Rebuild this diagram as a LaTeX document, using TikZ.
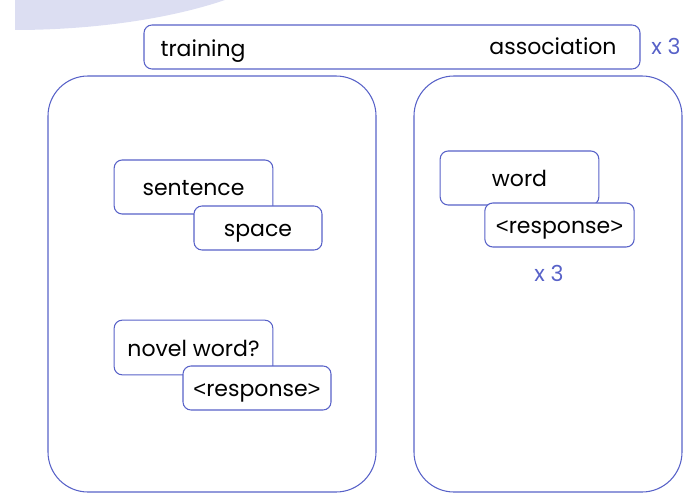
\documentclass[tikz,border=0pt]{standalone}
\usepackage{fontspec}
\setmainfont{Poppins}
\newfontfamily\bracketfont{Liberation Sans}
\usepackage{tikz}
\definecolor{edgeblue}{RGB}{88,98,200}
\definecolor{blobfill}{RGB}{220,222,242}
\newcommand{\lbrk}{{\bracketfont<}}
\newcommand{\rbrk}{{\bracketfont>}}
\tikzset{
  cardbox/.style={draw=edgeblue, line width=0.8pt, fill=white, rounded corners=6pt,
    inner sep=0pt},
  panelbox/.style={draw=edgeblue, line width=0.8pt, rounded corners=30pt},
  cardtext/.style={font=\fontsize{16.5}{19}\selectfont, text=black, inner sep=0pt,
    text height=16pt, text depth=3pt},
  repeatnote/.style={font=\fontsize{16.5}{19}\selectfont, text=edgeblue, inner sep=0pt,
    text height=16pt, text depth=3pt}
}

\begin{document}
\begin{tikzpicture}[x=0.75pt, y=-0.75pt]
		%%%%% START %%%%%
		\useasboundingbox (0, 0) rectangle (695, 495);
		
		\fill[blobfill] (15, 0) -- (225, 0) .. controls (160, 22) and (80, 30) .. (15, 30) -- cycle;
		
		% header bar
		\draw[cardbox] (144, 25) rectangle (640, 69);
		\node[cardtext] (training) at (203, 48) {training};
		\node[cardtext] (association) at (553, 46) {association};
		\node[repeatnote] (headrep) at (666, 46) {x 3};
		
		% panels
		\draw[panelbox] (48, 76) rectangle (376, 492);
		\draw[panelbox] (414, 76) rectangle (682, 492);
		
		% left panel
		\node[cardbox, minimum width=119pt, minimum height=40.5pt] (sentence) at (193.5, 187) {};
		\node[cardtext] at (sentence) {sentence};
		\node[cardbox, minimum width=96pt, minimum height=33pt] (space) at (258, 228) {};
		\node[cardtext] at (space) {space};
		
		\node[cardbox, minimum width=119pt, minimum height=41pt] (novel) at (193.5, 347.5) {};
		\node[cardtext] at (novel) {novel word?};
		\node[cardbox, minimum width=111pt, minimum height=33pt] (resp1) at (257, 388) {};
		\node[cardtext] at (resp1) {\lbrk response\rbrk};
		
		% right panel
		\node[cardbox, minimum width=119pt, minimum height=40.5pt] (word) at (519.5, 178) {};
		\node[cardtext] at (word) {word};
		\node[cardbox, minimum width=112pt, minimum height=33pt] (resp2) at (559.5, 225) {};
		\node[cardtext] at (resp2) {\lbrk response\rbrk};
		\node[repeatnote] (wordrep) at (549, 273) {x 3};
		%%%%% END %%%%%
\end{tikzpicture}
\end{document}
